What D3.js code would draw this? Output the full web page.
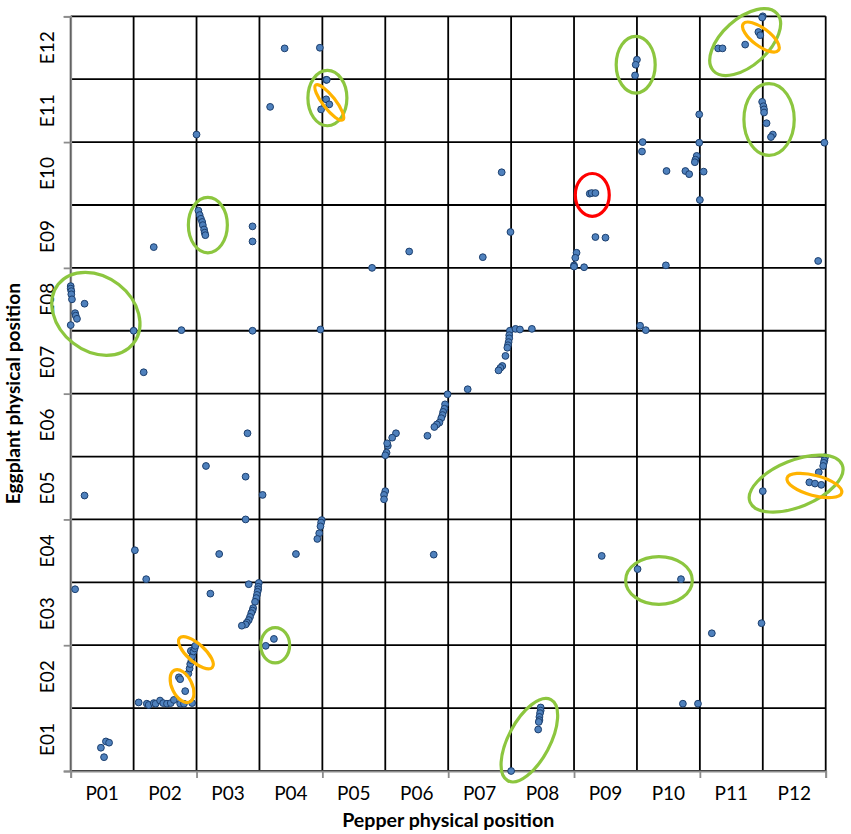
<!DOCTYPE html>
<html>
<head>
<meta charset="utf-8">
<script src="https://cdn.jsdelivr.net/npm/d3@7"></script>
<style>
  body { margin: 0; background: #fff; }
  svg text { font-family: Lato, "Open Sans", sans-serif; fill: #000; }
</style>
</head>
<body>
<div id="chart"></div>
<script>
// chromosome labels
var pepperLabels = ["P01","P02","P03","P04","P05","P06","P07","P08","P09","P10","P11","P12"];
var eggplantLabels = ["E01","E02","E03","E04","E05","E06","E07","E08","E09","E10","E11","E12"];

// marker pairs: [pepper position, eggplant position], in chromosome units
var markers = [
  [3.40,11.49],[3.17,10.56],[2.00,10.12],
  [2.03,8.91],[2.05,8.84],[2.07,8.78],[2.09,8.73],[2.10,8.68],[2.12,8.61],[2.13,8.56],[2.14,8.52],
  [2.89,8.66],[2.89,8.42],[1.32,8.33],
  [0.00,7.71],[0.00,7.67],[0.01,7.63],[0.01,7.58],[0.02,7.50],[0.22,7.43],[0.07,7.28],[0.08,7.24],[0.10,7.19],[0.00,7.09],
  [1.00,7.00],[1.76,7.01],[2.89,7.00],[1.16,6.34],[2.81,5.37],[2.15,4.85],[2.78,4.68],[0.22,4.38],[3.05,4.39],
  [2.78,4.00],[1.02,3.51],[2.36,3.45],[3.58,3.45],
  [0.07,2.89],[1.20,3.05],[2.22,2.82],
  [2.83,2.97],[2.99,2.99],[2.98,2.93],[2.98,2.89],[2.97,2.85],[2.96,2.80],[2.95,2.75],[2.93,2.69],
  [2.90,2.59],[2.89,2.55],[2.87,2.51],[2.85,2.45],[2.83,2.40],[2.80,2.36],[2.78,2.33],[2.72,2.31],
  [3.10,1.99],[3.23,2.10],
  [1.08,1.09],[1.21,1.07],[1.24,1.05],[1.32,1.08],[1.35,1.07],[1.42,1.12],[1.47,1.08],[1.53,1.07],
  [1.59,1.08],[1.64,1.13],[1.74,1.07],[1.80,1.07],[1.93,1.08],
  [1.72,1.49],[1.74,1.46],[1.82,1.27],[1.87,1.55],[1.89,1.63],[1.90,1.70],[1.92,1.76],[1.93,1.82],
  [1.91,1.91],[1.95,1.90],[1.97,1.95],[1.98,1.99],
  [0.48,0.37],[0.56,0.47],[0.61,0.45],[0.53,0.22],
  [3.96,11.50],[4.06,10.99],[4.07,10.99],[4.06,10.68],[4.11,10.60],[3.98,10.52],
  [6.85,9.52],[6.99,8.57],[5.38,8.26],[6.55,8.17],[4.79,8.00],
  [3.97,7.02],[6.98,7.00],[7.07,7.03],[7.14,7.02],[7.33,7.03],[6.97,6.93],[6.97,6.88],[6.96,6.82],
  [6.95,6.77],[6.94,6.73],[6.91,6.60],[6.86,6.44],[6.83,6.41],[6.80,6.37],
  [5.99,5.99],[6.31,6.07],[5.95,5.83],[5.94,5.76],[5.92,5.71],[5.91,5.66],[5.89,5.61],[5.86,5.54],
  [5.82,5.51],[5.78,5.47],[5.67,5.33],
  [5.17,5.37],[5.11,5.30],[5.04,5.17],[5.03,5.21],[5.02,5.06],[5.00,5.02],[5.00,4.45],[4.98,4.39],[4.98,4.32],
  [3.99,3.99],[3.98,3.95],[3.97,3.89],[3.95,3.78],[3.92,3.69],
  [5.77,3.44],
  [7.47,1.01],[7.47,0.96],[7.46,0.92],[7.45,0.86],[7.45,0.81],[7.44,0.78],[7.43,0.66],[7.00,0.00],
  [8.44,3.42],[9.01,3.21],[9.70,3.05],[10.19,2.19],[10.98,2.35],[9.73,1.07],[9.97,1.07],
  [9.05,7.08],[9.14,7.01],
  [11.99,4.99],[11.98,4.94],[11.97,4.90],[11.96,4.85],[11.89,4.75],[11.74,4.59],[11.83,4.57],[11.93,4.55],[11.00,4.45],
  [11.00,12.00],[10.99,11.98],[10.93,11.75],[10.96,11.70],[10.72,11.55],[10.29,11.49],[10.36,11.49],
  [9.00,11.31],[8.98,11.23],[8.97,11.06],[9.99,10.44],
  [10.99,10.64],[11.01,10.57],[11.02,10.52],[11.02,10.47],[11.06,10.30],[11.16,10.12],[11.13,10.08],
  [11.98,9.99],[9.09,10.00],[9.08,9.85],[9.99,9.99],[9.95,9.78],[9.93,9.72],[9.92,9.68],
  [9.47,9.54],[9.77,9.54],[9.83,9.49],[10.06,9.53],
  [8.25,9.18],[8.28,9.19],[8.34,9.19],
  [10.00,9.08],[8.34,8.49],[8.50,8.48],[8.04,8.24],[8.02,8.16],[8.00,8.04],[8.00,8.02],[8.16,8.01],
  [9.46,8.04],[11.88,8.11]
];

// highlighted blocks: [centre pepper, centre eggplant, half-width, half-height, tilt deg]
var greenRings = [
  [2.18,8.68,0.31,0.44,0],
  [0.40,7.27,0.76,0.59,38],
  [4.08,10.70,0.31,0.44,0],
  [3.25,2.00,0.23,0.28,0],
  [7.29,0.49,0.73,0.33,-62],
  [9.35,3.03,0.53,0.38,0],
  [8.98,11.23,0.31,0.45,0],
  [10.72,11.59,0.68,0.37,-42],
  [11.10,10.36,0.40,0.57,0],
  [11.53,4.57,0.79,0.37,-22]
];
var orangeRings = [
  [4.11,10.63,0.35,0.10,52],
  [1.99,1.88,0.35,0.14,42],
  [1.77,1.35,0.28,0.16,64],
  [10.97,11.67,0.35,0.14,37],
  [11.82,4.54,0.45,0.16,15]
];
var redRings = [
  [8.29,9.16,0.27,0.34,0]
];

var width = 851, height = 834;
var svg = d3.select("#chart").append("svg")
  .attr("width", width)
  .attr("height", height);

var x = d3.scaleLinear().domain([0, 12]).range([70.7, 825.7]);
var y = d3.scaleLinear().domain([0, 12]).range([771, 16.3]);
var unit = x(1) - x(0);
var cells = d3.range(0, 13);

// grid
var grid = svg.append("g").attr("class", "grid");
grid.selectAll("line.v")
  .data(cells)
  .enter().append("line")
  .attr("class", "v")
  .attr("x1", function(d){ return x(d); })
  .attr("x2", function(d){ return x(d); })
  .attr("y1", y(0)).attr("y2", y(12))
  .style("stroke", "#000")
  .style("stroke-width", 1.8);
grid.selectAll("line.h")
  .data(cells)
  .enter().append("line")
  .attr("class", "h")
  .attr("y1", function(d){ return y(d); })
  .attr("y2", function(d){ return y(d); })
  .attr("x1", x(0)).attr("x2", x(12))
  .style("stroke", "#000")
  .style("stroke-width", 1.8);

// axes (ticks every two chromosomes, grey like the original)
var xAxis = svg.append("g")
  .attr("transform", "translate(0," + y(0) + ")")
  .call(d3.axisBottom(x).tickValues(d3.range(0, 13, 2)).tickSize(7).tickFormat(""));
var yAxis = svg.append("g")
  .attr("transform", "translate(" + x(0) + ",0)")
  .call(d3.axisLeft(y).tickValues(d3.range(0, 13, 2)).tickSize(7).tickFormat(""));
[xAxis, yAxis].forEach(function(a){
  a.selectAll("path, line").style("stroke", "#8c8c8c").style("stroke-width", 1.8);
  a.select("path").style("fill", "none");
});

// category labels
svg.append("g").selectAll("text")
  .data(pepperLabels)
  .enter().append("text")
  .attr("x", function(d, i){ return x(i + 0.5); })
  .attr("y", 800)
  .attr("text-anchor", "middle")
  .style("font-size", "19px")
  .text(function(d){ return d; });

svg.append("g").selectAll("text")
  .data(eggplantLabels)
  .enter().append("text")
  .attr("transform", function(d, i){ return "translate(53.5," + y(i + 0.5) + ") rotate(-90)"; })
  .attr("text-anchor", "middle")
  .style("font-size", "19px")
  .text(function(d){ return d; });

// axis titles
svg.append("text")
  .attr("x", (x(0) + x(12)) / 2)
  .attr("y", 827)
  .attr("text-anchor", "middle")
  .style("font-size", "19.6px")
  .style("font-weight", "bold")
  .text("Pepper physical position");

svg.append("text")
  .attr("transform", "translate(20," + (y(0) + y(12)) / 2 + ") rotate(-90)")
  .attr("text-anchor", "middle")
  .style("font-size", "19.2px")
  .style("font-weight", "bold")
  .text("Eggplant physical position");

// markers
svg.append("g").selectAll("circle")
  .data(markers)
  .enter().append("circle")
  .attr("cx", function(d){ return x(d[0]); })
  .attr("cy", function(d){ return y(d[1]); })
  .attr("r", 3.4)
  .style("fill", "#4f81bd")
  .style("stroke", "#1c3f6e")
  .style("stroke-width", 1);

// rings
function drawRings(list, color) {
  svg.append("g").selectAll("ellipse")
    .data(list)
    .enter().append("ellipse")
    .attr("cx", function(d){ return x(d[0]); })
    .attr("cy", function(d){ return y(d[1]); })
    .attr("rx", function(d){ return d[2] * unit; })
    .attr("ry", function(d){ return d[3] * unit; })
    .attr("transform", function(d){ return "rotate(" + d[4] + "," + x(d[0]) + "," + y(d[1]) + ")"; })
    .style("fill", "none")
    .style("stroke", color)
    .style("stroke-width", 3.2);
}
drawRings(greenRings, "#8cc63f");
drawRings(orangeRings, "#ffb300");
drawRings(redRings, "#ff0000");
</script>
</body>
</html>
